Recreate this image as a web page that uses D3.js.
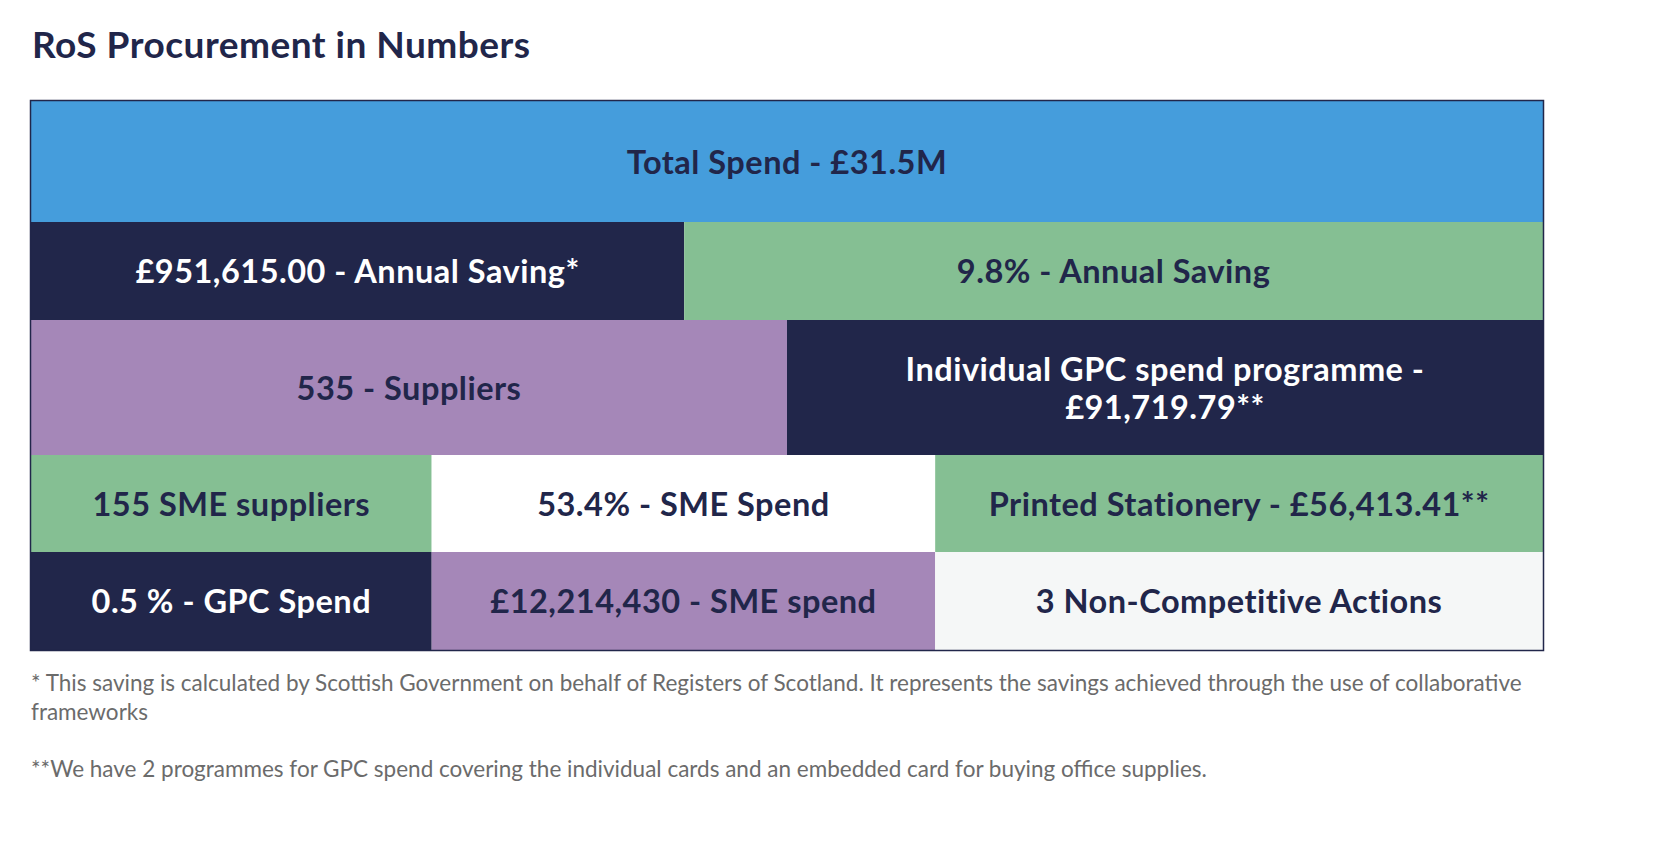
<!DOCTYPE html><html><head><meta charset="utf-8">
<script src="https://cdn.jsdelivr.net/npm/d3@7"></script>
<style>body{margin:0;background:#fff;font-family:Lato,sans-serif}</style></head><body>
<svg id="c" width="1658" height="850"></svg>
<script>
const title = "RoS Procurement in Numbers";
const labels = [
 ["Total Spend - £31.5M"],
 ["£951,615.00 - Annual Saving*","9.8% - Annual Saving"],
 ["535 - Suppliers","Individual GPC spend programme -\n£91,719.79**"],
 ["155 SME suppliers","53.4% - SME Spend","Printed Stationery - £56,413.41**"],
 ["0.5 % - GPC Spend","£12,214,430 - SME spend","3 Non-Competitive Actions"]
];
const fills = [["#459ddc"],["#21264a","#85bf93"],["#a587b8","#21264a"],["#85bf93","#ffffff","#85bf93"],["#21264a","#a587b8","#f5f7f7"]];
const inks = [["#21264a"],["#fff","#21264a"],["#21264a","#fff"],["#21264a","#21264a","#21264a"],["#fff","#21264a","#21264a"]];
const notes = ["* This saving is calculated by Scottish Government on behalf of Registers of Scotland. It represents the savings achieved through the use of collaborative","frameworks","","**We have 2 programmes for GPC spend covering the individual cards and an embedded card for buying office supplies."];
// layout
const rowH=[121,98,135,97,98], splits=[[],[0.432],[0.5],[0.265,0.598],[0.265,0.598]];
const svg=d3.select("#c"), X0=31,X1=1543,Y0=101;
const x=d3.scaleLinear().domain([0,1]).range([X0,X1]);
svg.append("text").attr("x",32).attr("y",58).attr("fill","#21264a").attr("font-size",37).attr("font-weight",700).attr("letter-spacing",0.5).text(title);
let y=Y0;
labels.forEach((row,i)=>{
 const b=[0,...splits[i],1];
 row.forEach((t,j)=>{
  const x0=x(b[j]),x1=x(b[j+1]);
  svg.append("rect").attr("x",x0).attr("y",y).attr("width",x1-x0).attr("height",rowH[i]).attr("fill",fills[i][j]);
  const lines=t.split("\n");
  const tx=svg.append("text").attr("x",(x0+x1)/2).attr("text-anchor","middle").attr("fill",inks[i][j]).attr("font-size",32.5).attr("font-weight",700).attr("letter-spacing",0.5);
  lines.forEach((l,k)=>tx.append("tspan").attr("x",(x0+x1)/2).attr("y",y+rowH[i]/2+12+(k-(lines.length-1)/2)*38).text(l));
 });
 y+=rowH[i];
});
svg.append("rect").attr("x",X0-0.5).attr("y",Y0-0.5).attr("width",X1-X0+1).attr("height",y-Y0+1).attr("fill","none").attr("stroke","#21264a").attr("stroke-width",1.5);
notes.forEach((n,i)=>svg.append("text").attr("x",31).attr("y",691+i*28.5).attr("fill","#6b6b6b").attr("font-size",22.5).text(n));
</script></body></html>
